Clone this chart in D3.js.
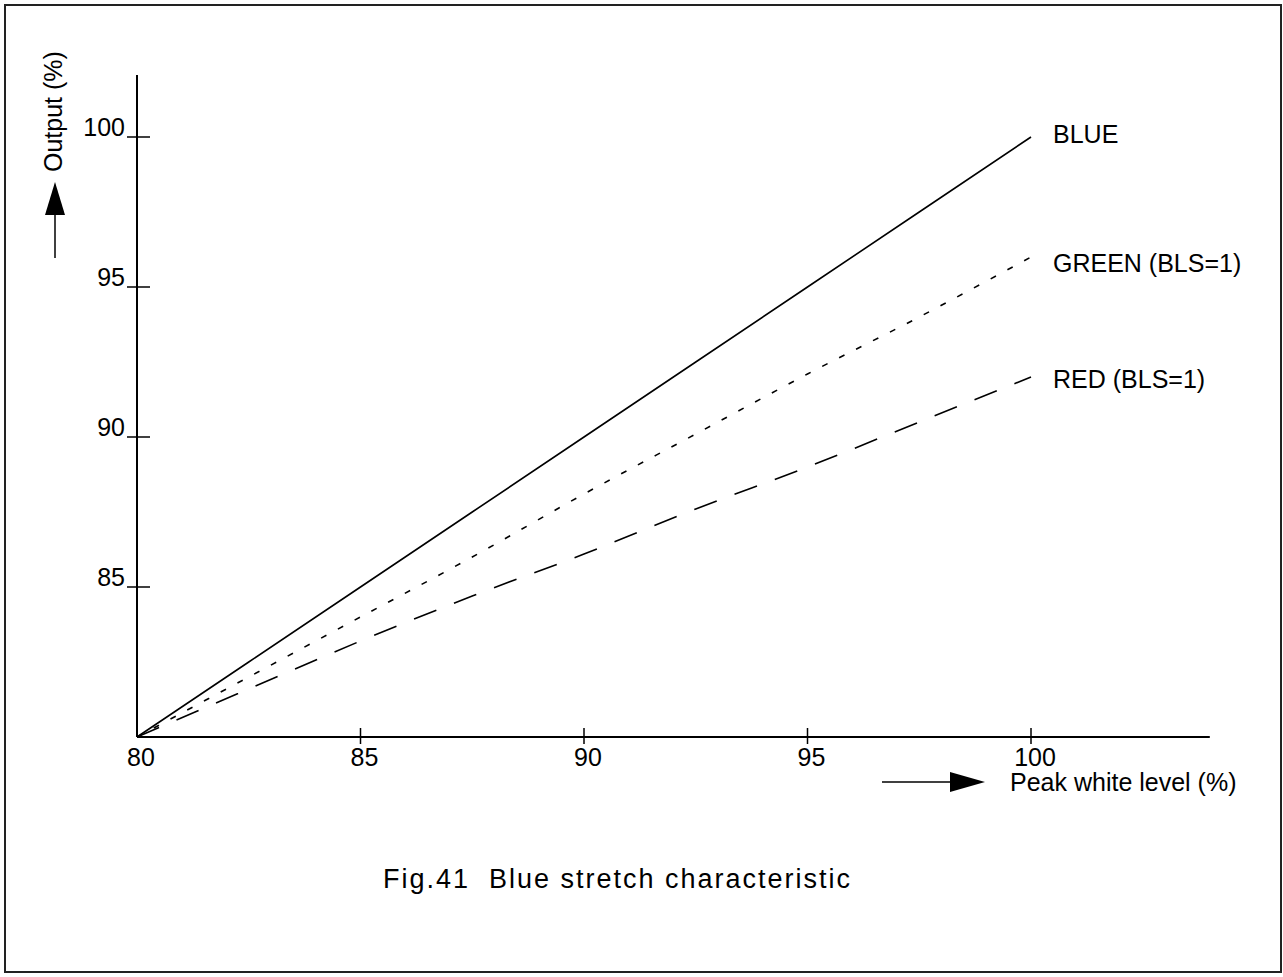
<!DOCTYPE html>
<html>
<head>
<meta charset="utf-8">
<script src="https://cdn.jsdelivr.net/npm/d3@7"></script>
<style>
  html, body { margin: 0; padding: 0; background: #fff; }
  svg text { font-family: "Liberation Sans", Arial, Helvetica, sans-serif; fill: #000; }
</style>
</head>
<body>
<svg id="chart" width="1283" height="977"></svg>
<script>
// ---- data ----
const peakWhite = [80, 82.5, 85, 87.5, 90, 92.5, 95, 97.5, 100];
const blueOut   = [80, 82.5, 85, 87.5, 90, 92.5, 95, 97.5, 100];
const greenOut  = [80, 82.0, 84.0, 86.0, 88.1, 90.1, 92.1, 94.0, 96.0];
const redOut    = [80, 81.6, 83.2, 84.7, 86.1, 87.6, 89.0, 90.5, 92.0];
const seriesNames = ["BLUE", "GREEN (BLS=1)", "RED (BLS=1)"];
const xTicks = [80, 85, 90, 95, 100];
const yTicks = [85, 90, 95, 100];
const xTitle = "Peak white level (%)";
const yTitle = "Output (%)";
const caption = "Fig.41  Blue stretch characteristic";

const svg = d3.select("#chart");

// frame
svg.append("rect").attr("x", 5).attr("y", 5).attr("width", 1276).attr("height", 967)
  .attr("fill", "none").attr("stroke", "#222").attr("stroke-width", 2);

const x = d3.scaleLinear().domain([80, 100]).range([137, 1031]);
const y = d3.scaleLinear().domain([80, 100]).range([737, 137]);
const xMax = 104, yMax = 102.07;

const fs = 25;

// axes lines
const g = svg.append("g");
g.append("line").attr("x1", x(80)).attr("x2", x(xMax)).attr("y1", y(80)).attr("y2", y(80))
  .attr("stroke", "#000").attr("stroke-width", 2);
g.append("line").attr("x1", x(80)).attr("x2", x(80)).attr("y1", y(80)).attr("y2", y(yMax))
  .attr("stroke", "#000").attr("stroke-width", 2);

// x ticks
xTicks.forEach(v => {
  if (v !== 80) {
    g.append("line").attr("x1", x(v)).attr("x2", x(v)).attr("y1", y(80) - 9).attr("y2", y(80) + 7)
      .attr("stroke", "#000").attr("stroke-width", 1.5);
  }
  g.append("text").attr("x", x(v) + 4).attr("y", y(80) + 29).attr("text-anchor", "middle")
    .attr("font-size", fs).text(v);
});
// y ticks
yTicks.forEach(v => {
  g.append("line").attr("x1", x(80) - 10).attr("x2", x(80) + 13).attr("y1", y(v)).attr("y2", y(v))
    .attr("stroke", "#000").attr("stroke-width", 1.5);
  g.append("text").attr("x", x(80) - 12).attr("y", y(v) - 1).attr("text-anchor", "end")
    .attr("font-size", fs).text(v);
});

// series
const line = d3.line().x(d => x(d[0])).y(d => y(d[1])).curve(d3.curveMonotoneX);
const series = [
  { name: seriesNames[0], vals: blueOut, dash: null, dy: 6 },
  { name: seriesNames[1], vals: greenOut, dash: "6,13", dy: 15 },
  { name: seriesNames[2], vals: redOut, dash: "24,19", dy: 11 }
];
series.forEach(s => {
  const pts = peakWhite.map((p, i) => [p, s.vals[i]]);
  g.append("path").attr("d", line(pts)).attr("fill", "none").attr("stroke", "#000")
    .attr("stroke-width", 1.6).attr("stroke-dasharray", s.dash);
  g.append("text").attr("x", x(100) + 22).attr("y", y(s.vals[s.vals.length - 1]) + s.dy)
    .attr("font-size", fs).text(s.name);
});

// x-axis arrow + title
const ay = 782;
g.append("line").attr("x1", 882).attr("x2", 952).attr("y1", ay).attr("y2", ay)
  .attr("stroke", "#000").attr("stroke-width", 1.5);
g.append("path").attr("d", `M950,${ay - 10} L985,${ay} L950,${ay + 10} Z`).attr("fill", "#000");
g.append("text").attr("x", 1010).attr("y", 791).attr("font-size", fs).text(xTitle);

// y-axis arrow + title
const ax = 55;
g.append("line").attr("x1", ax).attr("x2", ax).attr("y1", 258).attr("y2", 212)
  .attr("stroke", "#000").attr("stroke-width", 1.5);
g.append("path").attr("d", `M${ax - 10},215 L${ax},182 L${ax + 10},215 Z`).attr("fill", "#000");
g.append("text").attr("transform", `translate(62,172) rotate(-90)`).attr("font-size", fs).text(yTitle);

// caption
g.append("text").attr("x", 383).attr("y", 888)
  .attr("font-size", 27).attr("xml:space", "preserve")
  .attr("textLength", 467).attr("lengthAdjust", "spacing").text(caption);
</script>
</body>
</html>
